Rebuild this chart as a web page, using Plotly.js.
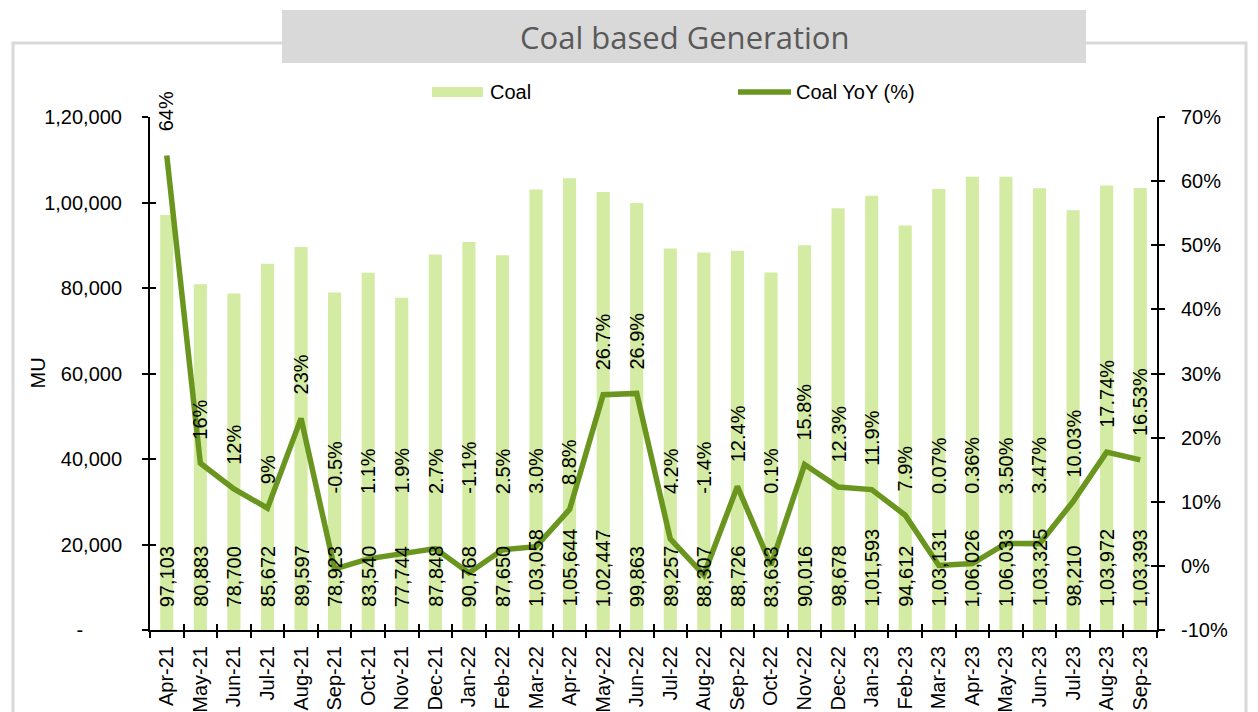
<!DOCTYPE html>
<html>
<head>
<meta charset="utf-8">
<script src="https://cdn.plot.ly/plotly-3.0.1.min.js"></script>
<style>
html,body{margin:0;padding:0;background:#fff;}
#chart{width:1258px;height:712px;}
</style>
</head>
<body>
<div id="chart"></div>
<script>
// ---- data ----
const months = ["Apr-21","May-21","Jun-21","Jul-21","Aug-21","Sep-21","Oct-21","Nov-21","Dec-21","Jan-22","Feb-22","Mar-22","Apr-22","May-22","Jun-22","Jul-22","Aug-22","Sep-22","Oct-22","Nov-22","Dec-22","Jan-23","Feb-23","Mar-23","Apr-23","May-23","Jun-23","Jul-23","Aug-23","Sep-23"];
const coal = [97103,80883,78700,85672,89597,78923,83540,77744,87848,90768,87650,103058,105644,102447,99863,89257,88307,88726,83633,90016,98678,101593,94612,103131,106026,106033,103325,98210,103972,103393];
const coalLabels = ["97,103","80,883","78,700","85,672","89,597","78,923","83,540","77,744","87,848","90,768","87,650","1,03,058","1,05,644","1,02,447","99,863","89,257","88,307","88,726","83,633","90,016","98,678","1,01,593","94,612","1,03,131","1,06,026","1,06,033","1,03,325","98,210","1,03,972","1,03,393"];
const yoy = [64,16,12,9,23,-0.5,1.1,1.9,2.7,-1.1,2.5,3.0,8.8,26.7,26.9,4.2,-1.4,12.4,0.1,15.8,12.3,11.9,7.9,0.07,0.36,3.50,3.47,10.03,17.74,16.53];
const yoyLabels = ["64%","16%","12%","9%","23%","-0.5%","1.1%","1.9%","2.7%","-1.1%","2.5%","3.0%","8.8%","26.7%","26.9%","4.2%","-1.4%","12.4%","0.1%","15.8%","12.3%","11.9%","7.9%","0.07%","0.36%","3.50%","3.47%","10.03%","17.74%","16.53%"];
const leftTickVals = [0,20000,40000,60000,80000,100000,120000];
const leftTickText = ["-\u00a0\u00a0\u00a0\u00a0\u00a0\u00a0\u00a0","20,000","40,000","60,000","80,000","1,00,000","1,20,000"];
const rightTickVals = [-10,0,10,20,30,40,50,60,70];
const rightTickText = ["-10%","0%","10%","20%","30%","40%","50%","60%","70%"];

// ---- layout geometry ----
const W = 1258, H = 712;
const M = {l:150, r:101, t:117, b:82};
const PW = W - M.l - M.r, PH = H - M.t - M.b;
const px = x => (x - M.l) / PW;
const py = y => (H - M.b - y) / PH;

const BAR = '#d3eba2', LINE = '#6a961f';
const FONT = 'Liberation Sans, Arial, sans-serif';

const traces = [
  {type:'bar', x:months, y:coal, name:'Coal', marker:{color:BAR}, yaxis:'y', xaxis:'x', hoverinfo:'x+y'},
  {type:'scatter', mode:'lines', x:months, y:yoy, name:'Coal YoY (%)', line:{color:LINE, width:5.5}, yaxis:'y2', xaxis:'x'},
  {type:'scatter', mode:'none', x:[], y:[], xaxis:'x2', yaxis:'y3', showlegend:false, hoverinfo:'skip'},
  {type:'scatter', mode:'none', x:[], y:[], xaxis:'x2', yaxis:'y4', showlegend:false, hoverinfo:'skip'}
];

const boundaries = months.map((m,i) => i - 0.5).concat([months.length - 0.5]);

const annotations = [];
coal.forEach((v,i) => annotations.push({
  xref:'x', yref:'y', x:months[i], y:0, text:coalLabels[i], showarrow:false,
  textangle:-90, yanchor:'bottom', xanchor:'center', yshift:21,
  font:{family:FONT, size:20, color:'#000'}
}));
yoy.forEach((v,i) => annotations.push({
  xref:'x', yref:'y2', x:months[i], y:Math.max(v, 7.5), text:yoyLabels[i], showarrow:false,
  textangle:-90, yanchor:'bottom', xanchor:'center', yshift:22,
  font:{family:FONT, size:20, color:'#000'}
}));
// title
annotations.push({xref:'paper', yref:'paper', x:px(684), y:py(37), text:'Coal based Generation', showarrow:false,
  xanchor:'center', yanchor:'middle', font:{family:'Open Sans, sans-serif', size:31, color:'#595959'}});
// legend texts
annotations.push({xref:'paper', yref:'paper', x:px(488), y:py(92), text:'Coal', showarrow:false,
  xanchor:'left', yanchor:'middle', font:{family:FONT, size:20, color:'#000'}});
annotations.push({xref:'paper', yref:'paper', x:px(794), y:py(92), text:'Coal YoY (%)', showarrow:false,
  xanchor:'left', yanchor:'middle', font:{family:FONT, size:20, color:'#000'}});
// y axis title
annotations.push({xref:'paper', yref:'paper', x:px(37), y:0.5, text:'MU', showarrow:false, textangle:-90,
  xanchor:'center', yanchor:'middle', font:{family:FONT, size:20, color:'#000'}});

const shapes = [
  {type:'rect', xref:'paper', yref:'paper', x0:px(13), x1:px(1246), y0:py(780), y1:py(43),
   line:{color:'#d9d9d9', width:3}, fillcolor:'rgba(0,0,0,0)', layer:'below'},
  {type:'rect', xref:'paper', yref:'paper', x0:px(282), x1:px(1086), y0:py(63), y1:py(10),
   line:{width:0}, fillcolor:'#d9d9d9', layer:'below'},
  {type:'rect', xref:'paper', yref:'paper', x0:px(432), x1:px(483), y0:py(97), y1:py(87),
   line:{width:0}, fillcolor:BAR},
  {type:'line', xref:'paper', yref:'paper', x0:px(738), x1:px(791), y0:py(92), y1:py(92),
   line:{color:LINE, width:5.5}}
];

const tickFont = {family:FONT, size:20, color:'#000'};
const AXW = 2;
const layout = {
  width:W, height:H, margin:M, paper_bgcolor:'#fff', plot_bgcolor:'rgba(0,0,0,0)',
  showlegend:false, bargap:0.61,
  xaxis:{type:'category', range:[-0.5, months.length-0.5], tickangle:-90, tickfont:tickFont,
    ticks:'outside', tickson:'boundaries', ticklen:6, tickcolor:'#000', tickwidth:AXW,
    showline:true, linecolor:'#000', linewidth:AXW, showgrid:false, zeroline:false, ticklabelstandoff:6},
  xaxis2:{overlaying:'x', anchor:'y', range:[-0.5, months.length-0.5], tickvals:boundaries, ticks:'inside',
    ticklen:6, tickcolor:'#000', tickwidth:AXW, showticklabels:false, showline:false, showgrid:false, zeroline:false},
  yaxis:{range:[0,120000], tickvals:leftTickVals, ticktext:leftTickText, tickfont:tickFont,
    ticks:'outside', ticklen:6, tickcolor:'#000', tickwidth:AXW, showline:true, linecolor:'#000', linewidth:AXW,
    showgrid:false, zeroline:false, ticklabelstandoff:16},
  yaxis2:{overlaying:'y', side:'right', anchor:'x', range:[-10,70], tickvals:rightTickVals, ticktext:rightTickText,
    tickfont:tickFont, ticks:'outside', ticklen:6, tickcolor:'#000', tickwidth:AXW, showline:true,
    linecolor:'#000', linewidth:AXW, showgrid:false, zeroline:false, ticklabelstandoff:12},
  yaxis3:{overlaying:'y', side:'left', anchor:'x2', range:[0,120000], tickvals:leftTickVals, ticks:'inside',
    ticklen:6, tickcolor:'#000', tickwidth:AXW, showticklabels:false, showline:false, showgrid:false, zeroline:false},
  yaxis4:{overlaying:'y', side:'right', anchor:'x2', range:[-10,70], tickvals:rightTickVals, ticks:'inside',
    ticklen:6, tickcolor:'#000', tickwidth:AXW, showticklabels:false, showline:false, showgrid:false, zeroline:false},
  annotations:annotations, shapes:shapes
};

Plotly.newPlot('chart', traces, layout, {displayModeBar:false, staticPlot:true});
</script>
</body>
</html>
